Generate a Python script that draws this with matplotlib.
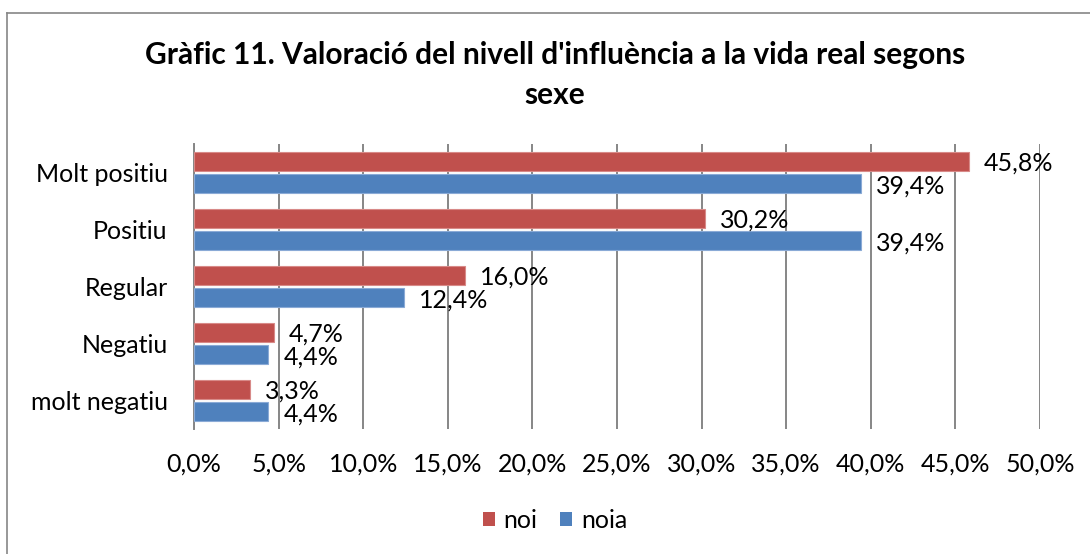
import matplotlib
matplotlib.use("Agg")
import matplotlib.pyplot as plt
import numpy as np
from matplotlib.lines import Line2D
from matplotlib.patches import Patch

plt.rcParams['font.family'] = ['Lato', 'DejaVu Sans']

categories = ["Molt positiu", "Positiu", "Regular", "Negatiu", "molt negatiu"]
noi = [45.8, 30.2, 16.0, 4.7, 3.3]
noia = [39.4, 39.4, 12.4, 4.4, 4.4]
series_names = ["noi", "noia"]
xticks = [0, 5, 10, 15, 20, 25, 30, 35, 40, 45, 50]

red = "#C0504D"
blue = "#4F81BD"
fs = 18

fig = plt.figure(figsize=(10.9, 5.54), dpi=100)
ax = fig.add_axes([194/1090, 1-429/554, (1040-194)/1090, (429-144)/554])

y = np.arange(len(categories))
h = 0.33
ax.barh(y - 0.2, noi, height=h, color=red, edgecolor="#D88A88", linewidth=0.8, zorder=3)
ax.barh(y + 0.2, noia, height=h, color=blue, edgecolor="#8AAAD6", linewidth=0.8, zorder=3)

fmt = lambda v: f"{v:.1f}".replace(".", ",") + "%"
for yi, v in zip(y, noi):
    ax.annotate(fmt(v), (v, yi - 0.2), xytext=(11, -1.5), textcoords="offset points",
                ha="left", va="center", fontsize=fs, zorder=4)
for yi, v in zip(y, noia):
    ax.annotate(fmt(v), (v, yi + 0.2), xytext=(11, -1.5), textcoords="offset points",
                ha="left", va="center", fontsize=fs, zorder=4)

ax.set_xlim(0, 50)
ax.set_ylim(4.5, -0.5)
ax.set_xticks(xticks)
ax.set_xticklabels([fmt(t) for t in xticks], fontsize=fs)
ax.set_yticks(y)
ax.set_yticklabels(categories, fontsize=fs)
ax.tick_params(axis="x", length=0, pad=17)
ax.tick_params(axis="y", length=0, pad=19)
ax.grid(axis="x", color="#868686", linewidth=1.4, zorder=0)
for s in ["top", "right", "bottom"]:
    ax.spines[s].set_visible(False)
ax.spines["left"].set_color("#868686")
ax.spines["left"].set_linewidth(1.4)

fig.text(555/1090, 1-55/554, "Gràfic 11. Valoració del nivell d'influència a la vida real segons",
         ha="center", va="center", fontsize=21.5, fontweight="bold")
fig.text(555/1090, 1-95/554, "sexe", ha="center", va="center", fontsize=21.5, fontweight="bold")

handles = [Patch(facecolor=red, edgecolor="none"), Patch(facecolor=blue, edgecolor="none")]
fig.legend(handles, series_names, loc="center", bbox_to_anchor=(555/1090, 1-520/554),
           ncol=2, frameon=False, fontsize=fs, handlelength=0.48, handleheight=0.48,
           handletextpad=0.35, columnspacing=0.9)

# outer chart frame (top and left visible)
fig.add_artist(Line2D([7/1090, 7/1090], [0, 1-13/554], transform=fig.transFigure, color="#868686", linewidth=1.2))
fig.add_artist(Line2D([7/1090, 1], [1-13/554, 1-13/554], transform=fig.transFigure, color="#868686", linewidth=1.2))

fig.savefig("out.png", dpi=100)
